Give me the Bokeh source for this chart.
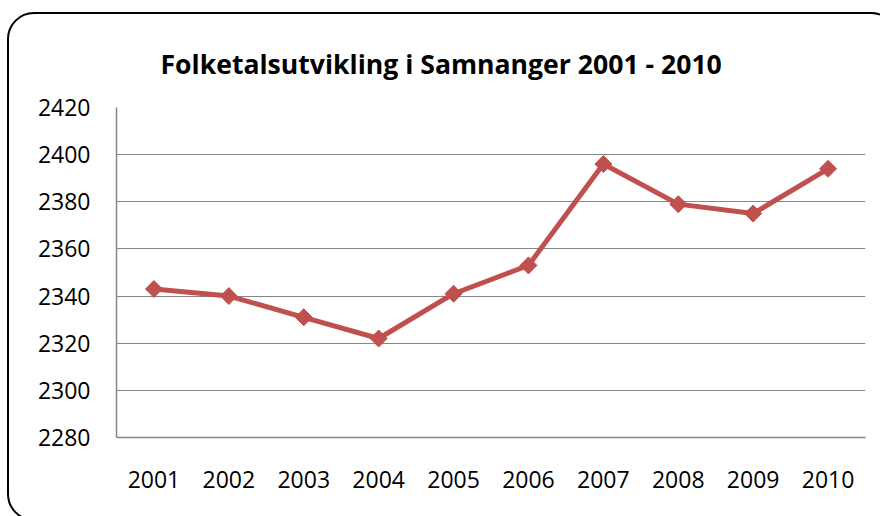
import numpy as np
from bokeh.plotting import figure
from bokeh.models import Range1d, InlineStyleSheet
from bokeh.embed import file_html
from bokeh.resources import INLINE

years = ["2001", "2002", "2003", "2004", "2005", "2006", "2007", "2008", "2009", "2010"]
population = [2343, 2340, 2331, 2322, 2341, 2353, 2396, 2379, 2375, 2394]
y_ticks = [2280, 2300, 2320, 2340, 2360, 2380, 2400, 2420]
title_text = "Folketalsutvikling i Samnanger 2001 - 2010"

FONT = "Open Sans"

p = figure(width=880, height=516, x_range=years, y_range=Range1d(2280, 2420),
           output_backend="svg", toolbar_location=None,
           min_border_left=116, min_border_right=15, min_border_top=107, min_border_bottom=79)

p.title.text = title_text
p.title.align = "left"
p.title.offset = 44
p.title.text_font = FONT
p.title.text_font_size = "26.6px"
p.title.text_font_style = "bold"
p.title.text_color = "black"
p.title.standoff = 52

p.outline_line_color = None
p.background_fill_color = "white"
p.border_fill_color = "white"

p.xgrid.grid_line_color = None
p.ygrid.grid_line_color = "#868686"
p.ygrid.grid_line_width = 1
p.yaxis.ticker = y_ticks

for ax in (p.xaxis, p.yaxis):
    ax.axis_line_color = "#868686"
    ax.axis_line_width = 1.5
    ax.major_tick_line_color = None
    ax.minor_tick_line_color = None
    ax.major_tick_out = 0
    ax.major_tick_in = 0
    ax.major_label_text_font = FONT
    ax.major_label_text_font_size = "23px"
    ax.major_label_text_color = "black"

p.yaxis.major_label_standoff = 26
p.xaxis.major_label_standoff = 33

p.line(years, population, line_color="#C0504D", line_width=5)
p.scatter(years, population, marker="square", angle=np.pi / 4, size=12,
          fill_color="#C0504D", line_color="#C0504D")

# rounded chart-area border (cut off at right and bottom as in the reference)
border_css = InlineStyleSheet(css="""
:host { position: relative; overflow: hidden; }
:host::after {
  content: "";
  position: absolute;
  left: 7px; top: 12px;
  width: 891px; height: 509px;
  border: 2px solid black;
  border-radius: 27px;
  pointer-events: none;
  box-sizing: border-box;
}
""")
p.stylesheets = [border_css]

open("out.html", "w").write(file_html(p, INLINE))
